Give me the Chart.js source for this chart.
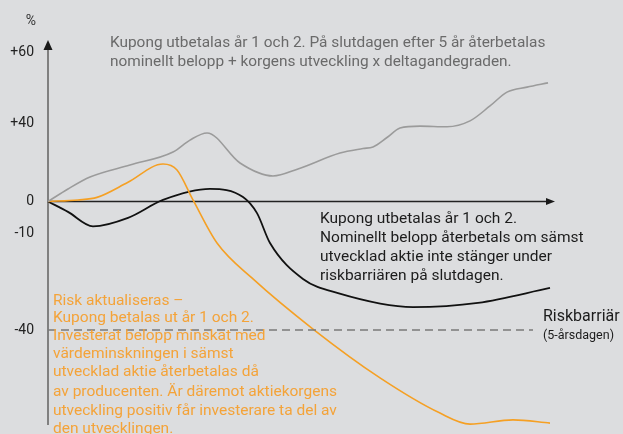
<!DOCTYPE html>
<html><head><meta charset="utf-8">
<script src="https://cdn.jsdelivr.net/npm/chart.js@4.4.1/dist/chart.umd.min.js"></script>
<style>html,body{margin:0;padding:0;background:#dcdddf;}canvas{display:block}</style>
</head><body><canvas id="c" width="623" height="434"></canvas>
<script>
// ---- data ----
const yTicks = [60, 40, 0, -10, -40];
const yTickLabels = ['+60', '+40', '0', '-10', '-40'];
const unitLabel = '%';

const grayYears  = [0, 0.2, 0.42, 0.82, 1.25, 1.42, 1.59, 1.92, 2.25, 2.5, 2.92, 3.15, 3.25, 3.39, 3.52, 3.72, 3.99, 4.22, 4.42, 4.59, 4.79, 5.0];
const grayValues = [0, 6.4, 12.5, 18.6, 25.2, 31.3, 34.9, 19.6, 13.0, 16.6, 24.7, 27.0, 27.8, 32.6, 37.4, 38.4, 38.1, 40.6, 44.8, 48.7, 50.1, 51.3];

const blackYears  = [0, 0.2, 0.45, 0.8, 1.15, 1.62, 1.95, 2.09, 2.22, 2.55, 2.9, 3.65, 4.3, 5.02];
const blackValues = [0, -3.3, -7.9, -5.2, 0.8, 6.4, 2.3, -3.7, -13.1, -24.2, -28.6, -32.9, -31.6, -27.0];

const orangeYears  = [0, 0.3, 0.49, 0.8, 1.15, 1.29, 1.45, 1.69, 2.05, 2.65, 3.32, 3.92, 4.22, 4.65, 5.02];
const orangeValues = [0, 0.8, 2.1, 9.8, 19.1, 16.1, 0.8, -13.1, -24.2, -39.7, -54.8, -65.7, -69.1, -67.8, -68.8];

const barrierYears  = [0, 4.85];
const barrierValues = [-40, -40];

const topNote = ['Kupong utbetalas år 1 och 2. På slutdagen efter 5 år återbetalas',
                 'nominellt belopp + korgens utveckling x deltagandegraden.'];
const blackNote = ['Kupong utbetalas år 1 och 2.', 'Nominellt belopp återbetals om sämst',
                   'utvecklad aktie inte stänger under', 'riskbarriären på slutdagen.'];
const orangeNote = ['Risk aktualiseras –', 'Kupong betalas ut år 1 och 2.', 'Investerat belopp minskat med',
                    'värdeminskningen i sämst', 'utvecklad aktie återbetalas då',
                    'av producenten. Är däremot aktiekorgens', 'utveckling positiv får investerare ta del av',
                    'den utvecklingen.'];
const barrierLabel = 'Riskbarriär';
const barrierSub = '(5-årsdagen)';

// ---- non-linear (piecewise) value axis, as in the original schematic ----
const anchorsReal = [-40, -10, 0, 40, 60];
const anchorsWarp = [-128.5, -31.5, 0, 78.5, 149.5];
function interp(v, a, b) {
  let i = 0;
  if (v <= a[0]) i = 0; else if (v >= a[a.length - 1]) i = a.length - 2;
  else { while (v > a[i + 1]) i++; }
  return b[i] + (v - a[i]) * (b[i + 1] - b[i]) / (a[i + 1] - a[i]);
}
const warp = v => interp(v, anchorsReal, anchorsWarp);
const unwarp = w => interp(w, anchorsWarp, anchorsReal);

class PiecewiseScale extends Chart.LinearScale {
  getPixelForValue(v) { return (v === null || v === undefined || isNaN(v)) ? NaN : super.getPixelForValue(warp(v)); }
  getValueForPixel(p) { return unwarp(super.getValueForPixel(p)); }
}
PiecewiseScale.id = 'piecewise';
PiecewiseScale.defaults = Chart.LinearScale.defaults;
Chart.register(PiecewiseScale);

const FONT = 'Roboto, "DejaVu Sans", sans-serif';
const pts = (xs, ys) => xs.map((x, i) => ({ x: x, y: ys[i] }));

const decor = {
  id: 'decor',
  beforeDraw(chart) {
    const ctx = chart.ctx;
    ctx.save();
    ctx.fillStyle = '#dcdddf';
    ctx.fillRect(0, 0, chart.width, chart.height);
    ctx.restore();
  },
  beforeDatasetsDraw(chart) {
    const ctx = chart.ctx, a = chart.chartArea, ys = chart.scales.y, xs = chart.scales.x;
    const x0 = xs.getPixelForValue(0), y0 = ys.getPixelForValue(0);
    ctx.save();
    ctx.strokeStyle = '#808080'; ctx.lineWidth = 2;
    ctx.beginPath(); ctx.moveTo(x0, a.bottom); ctx.lineTo(x0, a.top + 8); ctx.stroke();
    ctx.fillStyle = '#1a1a1a';
    ctx.beginPath(); ctx.moveTo(x0, a.top); ctx.lineTo(x0 - 4.5, a.top + 10); ctx.lineTo(x0 + 4.5, a.top + 10); ctx.closePath(); ctx.fill();
    ctx.strokeStyle = '#222'; ctx.lineWidth = 1.3;
    ctx.beginPath(); ctx.moveTo(x0, y0); ctx.lineTo(a.right - 6, y0); ctx.stroke();
    ctx.beginPath(); ctx.moveTo(a.right, y0); ctx.lineTo(a.right - 9, y0 - 3.5); ctx.lineTo(a.right - 9, y0 + 3.5); ctx.closePath(); ctx.fill();
    ctx.restore();
  },
  afterDraw(chart) {
    const ctx = chart.ctx;
    ctx.save();
    ctx.textBaseline = 'middle';
    ctx.textAlign = 'center';
    ctx.fillStyle = '#333';
    ctx.font = '14px ' + FONT;
    ctx.fillText(unitLabel, 31, 21);
    ctx.textAlign = 'left';
    ctx.fillStyle = '#6a6a6a';
    ctx.font = '15.4px ' + FONT;
    topNote.forEach((t, i) => ctx.fillText(t, 110, 43 + i * 19));
    ctx.fillStyle = '#1c1c1c';
    ctx.font = '15.5px ' + FONT;
    blackNote.forEach((t, i) => ctx.fillText(t, 320, 219 + i * 19));
    ctx.fillStyle = '#f4a339';
    ctx.font = '15.5px ' + FONT;
    const oy = [301, 318, 336, 354, 372, 392, 411, 429];
    orangeNote.forEach((t, i) => ctx.fillText(t, 53, oy[i]));
    ctx.fillStyle = '#1c1c1c';
    ctx.font = '16px ' + FONT;
    ctx.fillText(barrierLabel, 543, 317);
    ctx.font = '12.5px ' + FONT;
    ctx.fillText(barrierSub, 543, 336);
    ctx.restore();
  }
};

new Chart(document.getElementById('c'), {
  type: 'line',
  data: {
    datasets: [
      { label: 'Riskbarriär', data: pts(barrierYears, barrierValues), borderColor: '#7a7a7a', borderWidth: 1.6, borderDash: [8, 5], tension: 0, pointRadius: 0, clip: 10 },
      { label: 'Grå', data: pts(grayYears, grayValues), borderColor: '#9b9b9b', borderWidth: 1.6, cubicInterpolationMode: 'monotone', pointRadius: 0, clip: 10 },
      { label: 'Orange', data: pts(orangeYears, orangeValues), borderColor: '#f5a024', borderWidth: 1.6, cubicInterpolationMode: 'monotone', pointRadius: 0, clip: 10 },
      { label: 'Svart', data: pts(blackYears, blackValues), borderColor: '#111', borderWidth: 1.8, cubicInterpolationMode: 'monotone', pointRadius: 0, clip: 10 }
    ]
  },
  options: {
    responsive: false,
    animation: false,
    devicePixelRatio: 1,
    layout: { padding: { left: 0, right: 68, top: 40, bottom: 9 } },
    plugins: { legend: { display: false }, tooltip: { enabled: false } },
    scales: {
      x: { type: 'linear', min: 0, max: 5.07, display: false },
      y: {
        type: 'piecewise', min: -223.5, max: 161.5,
        grid: { display: false, drawTicks: false }, border: { display: false },
        afterFit(s) { s.width = 48; s.paddingTop = 0; s.paddingBottom = 0; s.paddingLeft = 0; s.paddingRight = 0; },
        afterBuildTicks(s) { s.ticks = yTicks.map(v => ({ value: v })); },
        ticks: {
          autoSkip: false, padding: 14, color: '#222',
          font: { family: 'Roboto', size: 14 },
          callback: (v) => yTickLabels[yTicks.indexOf(v)]
        }
      }
    }
  },
  plugins: [decor]
});
</script></body></html>
